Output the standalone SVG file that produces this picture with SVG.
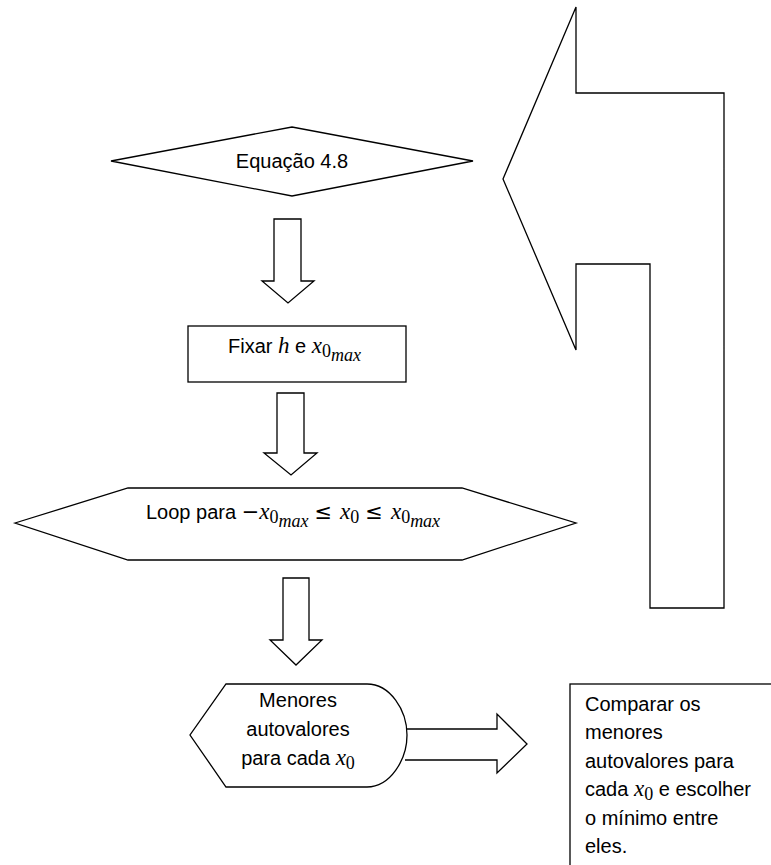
<svg xmlns="http://www.w3.org/2000/svg" width="771" height="865" viewBox="0 0 771 865">
<style>
.s{fill:#fff;stroke:#000;stroke-width:1.3;stroke-linejoin:miter}
.n{fill:none;stroke:#000;stroke-width:1.3}
.t{font-family:"Liberation Sans",Arial,sans-serif;font-size:20px;fill:#000}
.m{font-family:"Liberation Serif","DejaVu Serif",serif;font-style:italic;font-size:23px}
.r{font-family:"Liberation Serif","DejaVu Serif",serif;font-style:normal}
.sub{font-size:18px}
.op{font-family:"DejaVu Sans",sans-serif;font-size:21px}
</style>
<rect width="771" height="865" fill="#fff"/>
<g id="connectors">
<polygon class="s" points="576,7 576,93 724,93 724,608 650,608 650,264 576,264 576,350 503,179"/>
<polygon class="s" points="274,219 301,219 301,281 314,281 288,303 262,281 274,281"/>
<polygon class="s" points="277,393 304,393 304,453 317,453 291,475 264,453 277,453"/>
<polygon class="s" points="283,578 309,578 309,640 322,640 296,665 270,640 283,640"/>
<path class="n" d="M405,729 H497 V714 L527,744 L497,773 V760 H405"/>
</g>
<g id="n1">
<polygon class="s" points="111,161 292,127 473,161 292,196"/>
<text class="t" x="292" y="168" text-anchor="middle">Equação 4.8</text>
</g>
<g id="n2">
<rect class="s" x="188" y="326" width="218" height="56"/>
<text class="t" x="228" y="353">Fixar <tspan class="m">h</tspan> e <tspan class="m">x</tspan><tspan class="r sub" dy="4">0</tspan><tspan class="m sub" dy="4">max</tspan></text>
</g>
<g id="n3">
<polygon class="s" points="15,523 128,488 462,488 576,523 462,560 128,560"/>
<text class="t" x="146" y="519">Loop para <tspan class="op">−</tspan><tspan class="m">x</tspan><tspan class="r sub" dy="4">0</tspan><tspan class="m sub" dy="4">max</tspan><tspan class="op" dx="6" dy="-8">≤</tspan><tspan class="m" dx="8">x</tspan><tspan class="r sub" dy="4">0</tspan><tspan class="op" dx="6" dy="-4">≤</tspan><tspan class="m" dx="8">x</tspan><tspan class="r sub" dy="4">0</tspan><tspan class="m sub" dy="4">max</tspan></text>
</g>
<g id="n4">
<path class="s" d="M226,684 L367,684 C390,684 407,710 407,735 C407,760 390,787 367,787 L226,787 L190,735 Z"/>
<text class="t" text-anchor="middle"><tspan x="298" y="707">Menores</tspan><tspan x="298" y="736">autovalores</tspan><tspan x="298" y="765">para cada <tspan class="m">x</tspan><tspan class="r sub" dy="4">0</tspan></tspan></text>
</g>
<g id="n5">
<rect class="s" x="570" y="684" width="220" height="200"/>
<text class="t"><tspan x="585" y="711">Comparar os</tspan><tspan x="585" y="739">menores</tspan><tspan x="585" y="768">autovalores para</tspan><tspan x="585" y="796">cada <tspan class="m">x</tspan><tspan class="r sub" dy="4">0</tspan><tspan dy="-4"> e escolher</tspan></tspan><tspan x="585" y="825">o mínimo entre</tspan><tspan x="585" y="853">eles.</tspan></text>
</g>
</svg>
